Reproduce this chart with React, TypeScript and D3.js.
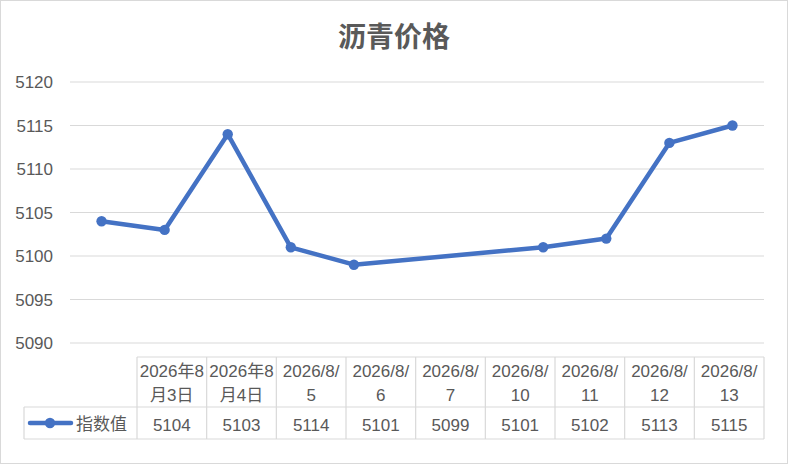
import * as d3 from "d3"

const title = "沥青价格"
const seriesName = "指数值"
const dates = ["2026-08-03", "2026-08-04", "2026-08-05", "2026-08-06", "2026-08-07", "2026-08-10", "2026-08-11", "2026-08-12", "2026-08-13"]
const headerLines = [
  ["2026年8", "月3日"],
  ["2026年8", "月4日"],
  ["2026/8/", "5"],
  ["2026/8/", "6"],
  ["2026/8/", "7"],
  ["2026/8/", "10"],
  ["2026/8/", "11"],
  ["2026/8/", "12"],
  ["2026/8/", "13"],
]
const values = [5104, 5103, 5114, 5101, 5099, 5101, 5102, 5113, 5115]
const yTicks = [5090, 5095, 5100, 5105, 5110, 5115, 5120]

const W = 788
const H = 464
const font = "'Liberation Sans', 'Noto Sans CJK SC', sans-serif"
const textColor = "#595959"
const lineColor = "#4472C4"
const gridColor = "#d9d9d9"

export default function App() {
  const plot = { x0: 70, x1: 764, y0: 82, y1: 343 }
  const parse = d3.timeParse("%Y-%m-%d")
  const parsed = dates.map(d => parse(d) as Date)

  // date axis: one band per day, points sit in the middle of their day
  const start = d3.timeHour.offset(parsed[0], -12)
  const end = d3.timeHour.offset(parsed[parsed.length - 1], 12)
  const x = d3.scaleTime().domain([start, end]).range([plot.x0, plot.x1])
  const y = d3.scaleLinear().domain([5090, 5120]).range([plot.y1, plot.y0])

  const line = d3.line<number>()
    .x((_, i) => x(parsed[i]))
    .y(d => y(d))

  // data table
  const table = { x0: 137, x1: 764, top: 357, mid: 407, bottom: 439, legendX: 24 }
  const col = d3.scaleBand<number>()
    .domain(d3.range(values.length))
    .range([table.x0, table.x1])

  return (
    <svg width={W} height={H} style={{ position: "absolute", left: 0, top: 0 }} fontFamily={font}>
      <rect x={0.5} y={0.5} width={W - 1} height={H - 1} fill="#fff" stroke="#d9d9d9" />
      <text x={W / 2} y={47} textAnchor="middle" fontSize={28} fontWeight="bold" fill={textColor}>{title}</text>

      {yTicks.map(t => (
        <g key={t}>
          <line x1={plot.x0} x2={plot.x1} y1={y(t)} y2={y(t)} stroke={gridColor} strokeWidth={1} />
          <text x={53} y={y(t) + 6} textAnchor="end" fontSize={17} fill={textColor}>{t}</text>
        </g>
      ))}

      <path d={line(values) ?? ""} fill="none" stroke={lineColor} strokeWidth={4.5} strokeLinejoin="round" />
      {values.map((v, i) => (
        <circle key={i} cx={x(parsed[i])} cy={y(v)} r={5.2} fill={lineColor} />
      ))}

      {/* table grid */}
      <g stroke={gridColor} strokeWidth={1.2} fill="none">
        <line x1={table.x0} x2={table.x1} y1={table.top} y2={table.top} />
        <line x1={table.legendX} x2={table.x1} y1={table.mid} y2={table.mid} />
        <line x1={table.legendX} x2={table.x1} y1={table.bottom} y2={table.bottom} />
        <line x1={table.legendX} x2={table.legendX} y1={table.mid} y2={table.bottom} />
        {d3.range(values.length + 1).map(i => {
          const cx = table.x0 + i * col.bandwidth()
          return <line key={i} x1={cx} x2={cx} y1={table.top} y2={table.bottom} />
        })}
      </g>

      {headerLines.map((lines, i) => (
        <g key={i}>
          {lines.map((l, j) => (
            <text key={j} x={(col(i) as number) + col.bandwidth() / 2} y={377 + j * 24}
              textAnchor="middle" fontSize={17} fill={textColor}>{l}</text>
          ))}
        </g>
      ))}
      {values.map((v, i) => (
        <text key={i} x={(col(i) as number) + col.bandwidth() / 2} y={431}
          textAnchor="middle" fontSize={17} fill={textColor}>{v}</text>
      ))}

      {/* legend key */}
      <line x1={30} x2={71} y1={423} y2={423} stroke={lineColor} strokeWidth={4.5} strokeLinecap="round" />
      <circle cx={50} cy={423} r={5.2} fill={lineColor} />
      <text x={76} y={430} fontSize={17} fill={textColor}>{seriesName}</text>
    </svg>
  )
}
